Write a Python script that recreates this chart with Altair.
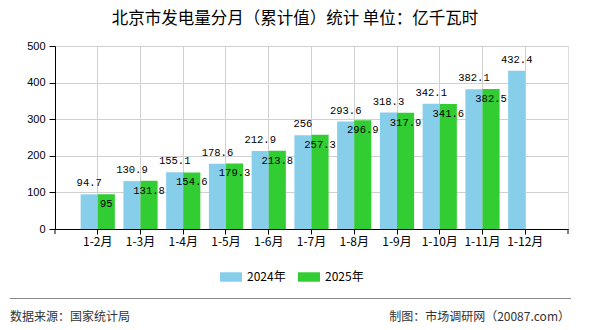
import altair as alt
import pandas as pd

categories = ["1-2月", "1-3月", "1-4月", "1-5月", "1-6月", "1-7月", "1-8月",
              "1-9月", "1-10月", "1-11月", "1-12月"]
values_2024 = [94.7, 130.9, 155.1, 178.6, 212.9, 256, 293.6, 318.3, 342.1, 382.1, 432.4]
values_2025 = [95, 131.8, 154.6, 179.3, 213.8, 257.3, 296.9, 317.9, 341.6, 382.5]
series_names = ["2024年", "2025年"]
series_colors = ["#87CEEB", "#32CD32"]
y_ticks = [0, 100, 200, 300, 400, 500]
title_text = "北京市发电量分月（累计值）统计 单位：亿千瓦时"
source_text = "数据来源：国家统计局"
maker_text = "制图：市场调研网（20087.com）"

rows = []
for c, v in zip(categories, values_2024):
    rows.append({"cat": c, "series": series_names[0], "value": v, "label": f"{v:g}"})
for c, v in zip(categories, values_2025):
    rows.append({"cat": c, "series": series_names[1], "value": v, "label": f"{v:g}"})
df = pd.DataFrame(rows)
one = pd.DataFrame({"k": [0]})

CJK = "Noto Sans CJK SC"
W, H = 513, 183

x_enc = alt.X("cat:N", sort=categories,
              scale=alt.Scale(paddingInner=0.2, paddingOuter=0.6),
              axis=alt.Axis(title=None, labelAngle=0, labelFontSize=12, labelFont=CJK,
                            labelColor="black", tickColor="black", tickSize=5,
                            domainColor="black", bandPosition=0.5,
                            grid=True, gridColor="#d0d0d0", labelPadding=2))
xo_enc = alt.XOffset("series:N", scale=alt.Scale(domain=series_names, paddingInner=0, paddingOuter=0))
y_enc = alt.Y("value:Q", scale=alt.Scale(domain=[0, 500], nice=False),
              axis=alt.Axis(title=None, values=y_ticks, labelOverlap=False,
                            labelFontSize=11, labelFont="Liberation Sans", labelColor="black",
                            tickColor="black", tickSize=6, domainColor="black",
                            grid=True, gridColor="#d0d0d0", labelPadding=4))

bars = alt.Chart(df).mark_bar().encode(
    x=x_enc, xOffset=xo_enc, y=y_enc,
    color=alt.Color("series:N",
                    scale=alt.Scale(domain=series_names, range=series_colors),
                    legend=alt.Legend(title=None, orient="none", direction="horizontal",
                                      legendX=165, legendY=220,
                                      symbolType="M-1,-0.43H1V0.43H-1Z", symbolSize=484,
                                      symbolStrokeWidth=0, labelFontSize=12, labelFont=CJK,
                                      labelColor="black", labelOffset=5, columnPadding=12)),
)

lab24 = alt.Chart(df).transform_filter(alt.datum.series == series_names[0]).mark_text(
    baseline="alphabetic", dy=-8, fontSize=10.5, font="Liberation Mono", color="black"
).encode(x=x_enc, xOffset=xo_enc, y=y_enc, text="label:N")

lab25 = alt.Chart(df).transform_filter(alt.datum.series == series_names[1]).mark_text(
    baseline="top", dy=5, fontSize=10.5, font="Liberation Mono", color="black"
).encode(x=x_enc, xOffset=xo_enc, y=y_enc, text="label:N")

end_ticks_l = alt.Chart(one).mark_rule(color="black").encode(
    x=alt.value(0), y=alt.value(H), y2=alt.value(H + 5))
end_ticks_r = alt.Chart(one).mark_rule(color="black").encode(
    x=alt.value(W), y=alt.value(H), y2=alt.value(H + 5))

footer_line = alt.Chart(one).mark_rule(color="#888888", strokeWidth=1).encode(
    x=alt.value(-45), x2=alt.value(516), y=alt.value(252.5))
footer_left = alt.Chart(one).mark_text(
    align="left", baseline="middle", fontSize=12, font=CJK, color="#333333", text=source_text
).encode(x=alt.value(-45), y=alt.value(270.5))
footer_right = alt.Chart(one).mark_text(
    align="right", baseline="middle", fontSize=12, font=CJK, color="#333333", text=maker_text
).encode(x=alt.value(515), y=alt.value(270.5))

chart = alt.layer(
    bars, lab24, lab25, end_ticks_l, end_ticks_r, footer_line, footer_left, footer_right
).properties(
    width=W, height=H,
    title=alt.TitleParams(text=title_text, fontSize=16.5, font=CJK, fontWeight="normal",
                          color="black", anchor="middle", frame="group", dx=-16.5,
                          offset=13),
    autosize=alt.AutoSizeParams(type="none"),
    padding={"left": 55, "top": 46, "right": 22, "bottom": 101},
).configure_view(stroke="#d0d0d0").configure(background="white")

chart.save("out.html", embed_options={"renderer": "svg", "actions": False})
